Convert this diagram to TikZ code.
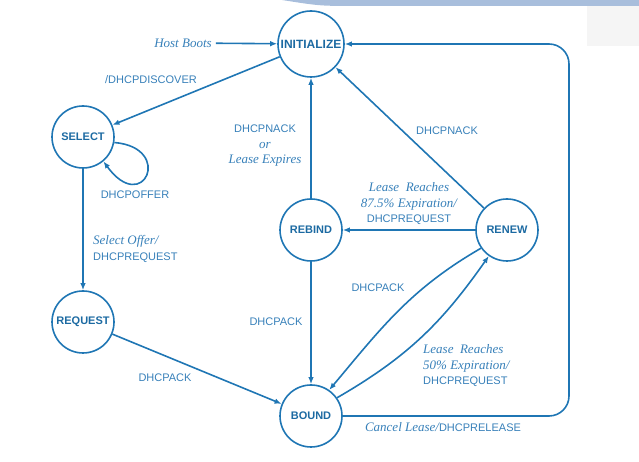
\documentclass[tikz,border=0pt]{standalone}
\usepackage{fontspec}
\setmainfont{Liberation Serif}
\setsansfont{Liberation Sans}
\usetikzlibrary{arrows.meta}
\definecolor{dhcp}{RGB}{31,118,180}
\definecolor{dhcptext}{RGB}{55,128,185}
\definecolor{decoblue}{RGB}{168,190,220}
\newcommand{\itx}[1]{{\rmfamily\itshape\fontsize{13}{15.5}\selectfont #1}}

\begin{document}
\begin{tikzpicture}[x=1pt,y=1pt,
  state/.style={circle,draw=dhcp,line width=1.6pt,minimum size=62pt,inner sep=0pt,
    font=\sffamily\bfseries\fontsize{11}{13}\selectfont,text=dhcp!90!black},
  arr/.style={draw=dhcp,line width=1.6pt,-{Latex[length=7pt,width=5.5pt]}},
  lab/.style={font=\sffamily\fontsize{11}{15.5}\selectfont,text=dhcptext,inner sep=0pt}]
  \useasboundingbox (0,0) rectangle (639,462);
  % slide decoration
  \fill[decoblue] (282,462) .. controls (320,456) .. (360,456) -- (639,456) -- (639,462) -- cycle;
  \fill[black!4] (587,456) rectangle (639,416);
  % states
  \node[state,minimum size=66pt,font=\sffamily\bfseries\fontsize{12}{13}\selectfont] (init) at (311,418) {INITIALIZE};
  \node[state] (select) at (83,325) {SELECT};
  \node[state] (request) at (83,140) {REQUEST};
  \node[state] (rebind) at (311,232) {REBIND};
  \node[state] (renew) at (507,232) {RENEW};
  \node[state] (bound) at (311,46) {BOUND};
  % labels
  \node[lab,inner sep=4pt] (boot) at (183,419) {\itx{Host Boots}};
  \node[lab] (discover) at (151,382) {/DHCPDISCOVER};
  \node[lab] (offer) at (135,267) {DHCPOFFER};
  \node[lab,anchor=west,align=left] (selreq) at (93,213) {\itx{Select Offer/}\\DHCPREQUEST};
  \node[lab] (ack1) at (165,84) {DHCPACK};
  \node[lab,align=center] (nack1) at (265,316) {DHCPNACK\\\itx{or}\\\itx{Lease Expires}};
  \node[lab] (ack2) at (276,140) {DHCPACK};
  \node[lab] (nack2) at (447,331) {DHCPNACK};
  \node[lab,align=center] (reach87) at (409,258) {\itx{Lease\ \ Reaches}\\\itx{87.5\% Expiration/}\\DHCPREQUEST};
  \node[lab] (ack3) at (378,174) {DHCPACK};
  \node[lab,anchor=west,align=left] (reach50) at (423,96) {\itx{Lease\ \ Reaches}\\\itx{50\% Expiration/}\\DHCPREQUEST};
  \node[lab] (cancel) at (443,35) {\itx{Cancel Lease/}DHCPRELEASE};
  % transitions
  \draw[arr] (boot) -- (init);
  \draw[arr] (init) -- (select);
  \draw[arr] (select.-10) .. controls +(60,-5) and +(40,-55) .. (select.-50);
  \draw[arr] (select) -- (request);
  \draw[arr] (request) -- (bound);
  \draw[arr] (rebind) -- (init);
  \draw[arr] (rebind) -- (bound);
  \draw[arr] (renew) -- (init);
  \draw[arr] (renew) -- (rebind);
  \draw[arr] (renew.215) to[out=210,in=50] (bound.55);
  \draw[arr] (bound.35) to[out=30,in=235] (renew.235);
  \draw[arr,rounded corners=20pt] (bound.east) -- (569,46) -- (569,418) -- (init.east);
\end{tikzpicture}
\end{document}
